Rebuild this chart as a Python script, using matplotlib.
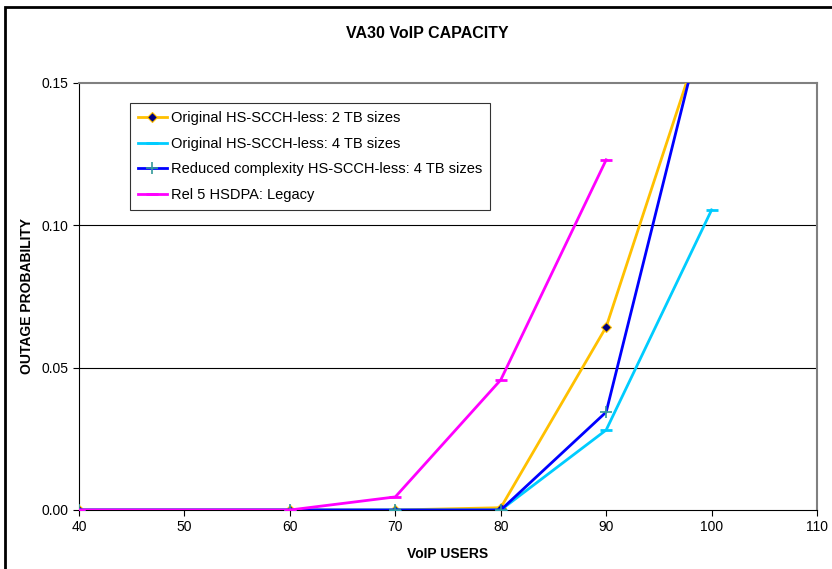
import matplotlib
matplotlib.use("Agg")
import matplotlib.pyplot as plt
from matplotlib.patches import Rectangle

plt.rcParams['font.family'] = ['Liberation Sans', 'DejaVu Sans']

users = [40, 60, 70, 80, 90, 100]
orig_2tb = [0.0, 0.0, 0.0, 0.0008, 0.0643, 0.177]
orig_4tb = [0.0, 0.0, 0.0, 0.0, 0.0281, 0.1054]
reduced_4tb = [0.0, 0.0, 0.0, 0.0, 0.0344, 0.183]
legacy_users = [40, 60, 70, 80, 90]
legacy = [0.0, 0.0, 0.0046, 0.0457, 0.123]

fig = plt.figure(figsize=(8.32, 5.69), dpi=100)
ax = fig.add_axes([0.095, 0.1037, 0.887, 0.7505])

ax.plot(users, orig_2tb, color='#FFC000', lw=2, marker='D', ms=5,
        mfc='#000080', mec='#FFC000', mew=0.8, label='Original HS-SCCH-less: 2 TB sizes', zorder=3)
ax.plot(users, orig_4tb, color='#00CCFF', lw=2, marker='_', ms=9, mew=2,
        label='Original HS-SCCH-less: 4 TB sizes', zorder=3)
ax.plot(users, reduced_4tb, color='#0000FF', lw=2, marker='+', ms=8, mew=1.2,
        mec='#339999', label='Reduced complexity HS-SCCH-less: 4 TB sizes', zorder=4)
ax.plot(legacy_users, legacy, color='#FF00FF', lw=2, marker='_', ms=9, mew=2,
        label='Rel 5 HSDPA: Legacy', zorder=5)

ax.set_xlim(40, 110)
ax.set_ylim(0, 0.15)
ax.set_xticks(range(40, 111, 10))
ax.set_yticks([0.0, 0.05, 0.10, 0.15])
ax.set_yticklabels(['0.00', '0.05', '0.10', '0.15'])
ax.tick_params(labelsize=10, direction='out', length=4, width=0.8)
for y in [0.05, 0.10]:
    ax.axhline(y, color='black', lw=0.8, zorder=1)

ax.spines['top'].set_color('#808080')
ax.spines['right'].set_color('#808080')
ax.spines['top'].set_linewidth(1.5)
ax.spines['right'].set_linewidth(1.5)

fig.text(427 / 832, 1 - 33 / 569, 'VA30 VoIP CAPACITY', fontsize=11.5,
         fontweight='bold', ha='center', va='center')
ax.set_xlabel('VoIP USERS', fontsize=10, fontweight='bold', labelpad=9)
ax.set_ylabel('OUTAGE PROBABILITY', fontsize=10, fontweight='bold')
ax.yaxis.set_label_coords(-0.061, 0.5)

leg = ax.legend(loc='upper left', bbox_to_anchor=(0.0685, 0.953), fontsize=10.5,
                frameon=True, fancybox=False, edgecolor='black', handlelength=2.0,
                handletextpad=0.3, labelspacing=0.8, borderpad=0.55, borderaxespad=0)
leg.get_frame().set_linewidth(0.8)

fig.patches.append(Rectangle((0.006, -0.01), 1.5, 0.998, transform=fig.transFigure,
                             fill=False, edgecolor='black', lw=2))

fig.savefig('out.png', dpi=100)
